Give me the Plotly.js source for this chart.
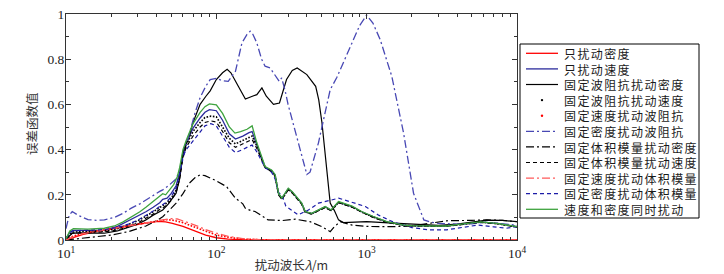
<!DOCTYPE html>
<html>
<head>
<meta charset="utf-8">
<script src="https://cdn.plot.ly/plotly-3.0.1.min.js"></script>
<style>
html,body{margin:0;padding:0;background:#fff;}
#chart{width:724px;height:274px;}
</style>
</head>
<body>
<div id="chart"></div>
<script>
// ---- data (wavelength in m, error-function value) ----
const names = ['只扰动密度','只扰动速度','固定波阻抗扰动密度','固定波阻抗扰动速度','固定速度扰动波阻抗',
  '固定密度扰动波阻抗','固定体积模量扰动密度','固定体积模量扰动速度','固定速度扰动体积模量','固定密度扰动体积模量','速度和密度同时扰动'];

const L_onlyRho = [10, 11, 13, 16, 20, 26, 34, 41, 46, 51, 60, 66, 76, 85, 100, 120, 150, 200, 400, 1000, 10000];
const v_onlyRho = [0, 0.01, 0.025, 0.037, 0.05, 0.062, 0.075, 0.082, 0.08, 0.074, 0.06, 0.05, 0.035, 0.022, 0.01, 0.004, 0.001, 0, 0, 0, 0];

const L_onlyVel = [10, 10.6, 11.2, 14, 18, 22, 26, 30, 34, 38, 42, 44, 47, 50, 54, 57, 60, 63, 70, 78, 84, 90, 100, 110, 122, 134, 150, 165, 173, 186, 200, 211, 233, 246, 259, 273, 301, 320, 370, 390, 430, 530, 580, 650, 800, 925, 1100, 1360, 1760, 2000, 2900, 3400, 4000, 5700, 7300, 8700, 10000];
const v_onlyVel = [0.005, 0.035, 0.042, 0.042, 0.044, 0.06, 0.085, 0.105, 0.125, 0.145, 0.165, 0.18, 0.185, 0.205, 0.24, 0.3, 0.39, 0.43, 0.495, 0.54, 0.565, 0.577, 0.572, 0.53, 0.47, 0.447, 0.46, 0.475, 0.48, 0.42, 0.365, 0.323, 0.307, 0.288, 0.206, 0.184, 0.227, 0.212, 0.162, 0.125, 0.117, 0.147, 0.132, 0.168, 0.148, 0.125, 0.104, 0.08, 0.066, 0.064, 0.062, 0.062, 0.068, 0.08, 0.074, 0.066, 0.059];

const L_fixImpRho = [10, 11, 14, 18, 22, 26, 30, 34, 38, 44, 48, 54, 57, 60, 63, 66, 70, 78, 85, 91, 100, 110, 118, 125, 140, 156, 172, 186, 201, 215, 240, 263, 293, 320, 345, 400, 458, 480, 504, 540, 572, 610, 650, 700, 1000, 1400, 2000, 3000, 4000, 5000, 6300, 8000, 10000];
const v_fixImpRho = [0.003, 0.03, 0.03, 0.03, 0.04, 0.058, 0.07, 0.089, 0.11, 0.133, 0.16, 0.207, 0.27, 0.38, 0.42, 0.46, 0.52, 0.6, 0.635, 0.66, 0.71, 0.74, 0.755, 0.74, 0.68, 0.624, 0.635, 0.643, 0.673, 0.636, 0.6, 0.606, 0.71, 0.75, 0.761, 0.732, 0.68, 0.62, 0.52, 0.33, 0.163, 0.13, 0.089, 0.077, 0.081, 0.076, 0.072, 0.065, 0.07, 0.08, 0.088, 0.087, 0.081];

const L_fixImpVel = [10, 11, 14, 18, 22, 26, 30, 34, 38, 42, 46, 50, 54, 57, 60, 63, 70, 78, 84, 92, 100, 110, 122, 134, 150, 165, 173, 186, 200, 211, 233, 246, 259, 273, 301, 320, 370, 390, 430, 530, 580, 650, 800, 925, 1100, 1360, 1760, 2000, 2900, 3400, 4000, 5700, 7300, 8700, 10000];
const v_fixImpVel = [0.005, 0.035, 0.038, 0.04, 0.05, 0.068, 0.085, 0.105, 0.125, 0.145, 0.16, 0.185, 0.22, 0.28, 0.38, 0.42, 0.48, 0.52, 0.542, 0.548, 0.545, 0.5, 0.45, 0.425, 0.44, 0.455, 0.46, 0.415, 0.36, 0.322, 0.305, 0.285, 0.205, 0.18, 0.225, 0.21, 0.16, 0.124, 0.116, 0.145, 0.13, 0.166, 0.146, 0.124, 0.102, 0.08, 0.065, 0.063, 0.061, 0.062, 0.067, 0.079, 0.073, 0.065, 0.058];

const L_fixVelImp = [10, 11, 13, 16, 20, 26, 34, 41, 46, 51, 60, 66, 76, 85, 100, 120, 150, 200, 260, 1000, 10000];
const v_fixVelImp = [0, 0.015, 0.03, 0.04, 0.052, 0.065, 0.078, 0.086, 0.09, 0.088, 0.077, 0.066, 0.05, 0.038, 0.022, 0.012, 0.004, 0.001, 0, 0, 0];

const L_fixRhoImp = [10, 10.5, 11, 12, 14, 16, 18, 21, 24, 27, 31, 34, 38, 42, 44, 48, 54, 58, 62, 66, 72, 78, 85, 91, 100, 110, 120, 134, 148, 160, 168, 175, 186, 200, 211, 228, 250, 262, 272, 287, 300, 335, 370, 400, 420, 450, 478, 504, 572, 634, 720, 817, 900, 1000, 1100, 1230, 1470, 1760, 2050, 2400, 2700, 3000, 4000, 5000, 6000, 7500, 10000];
const v_fixRhoImp = [0.05, 0.11, 0.126, 0.11, 0.09, 0.087, 0.089, 0.1, 0.118, 0.14, 0.16, 0.177, 0.2, 0.215, 0.222, 0.24, 0.27, 0.32, 0.4, 0.47, 0.56, 0.63, 0.68, 0.71, 0.715, 0.705, 0.702, 0.746, 0.872, 0.91, 0.924, 0.91, 0.872, 0.8, 0.769, 0.761, 0.72, 0.702, 0.717, 0.66, 0.6, 0.48, 0.37, 0.29, 0.3, 0.37, 0.43, 0.5, 0.665, 0.72, 0.8, 0.887, 0.95, 0.995, 0.96, 0.887, 0.724, 0.473, 0.207, 0.089, 0.078, 0.074, 0.07, 0.072, 0.078, 0.074, 0.065];

const L_fixKRho = [10, 11, 13, 16, 20, 26, 34, 40, 44, 50, 54, 60, 66, 72, 78, 84, 91, 100, 117, 134, 150, 156, 170, 181, 221, 273, 335, 420, 504, 572, 610, 667, 800, 1000, 1500, 2000, 2640, 3400, 5000, 6300, 8000, 10000];
const v_fixKRho = [0, 0.003, 0.008, 0.012, 0.022, 0.037, 0.062, 0.085, 0.103, 0.14, 0.163, 0.205, 0.251, 0.275, 0.288, 0.285, 0.275, 0.262, 0.236, 0.185, 0.16, 0.14, 0.13, 0.126, 0.089, 0.086, 0.092, 0.081, 0.059, 0.037, 0.059, 0.081, 0.066, 0.06, 0.059, 0.062, 0.074, 0.085, 0.087, 0.089, 0.087, 0.081];

const L_fixKVel = [10, 11, 14, 18, 22, 26, 30, 34, 38, 42, 46, 50, 54, 57, 60, 63, 70, 78, 84, 92, 100, 110, 122, 134, 150, 165, 173, 186, 200, 211, 233, 246, 259, 273, 301, 320, 370, 390, 430, 530, 580, 650, 800, 925, 1100, 1360, 1760, 2000, 2900, 3400, 4000, 5700, 7300, 8700, 10000];
const v_fixKVel = [0.003, 0.03, 0.034, 0.036, 0.044, 0.058, 0.075, 0.095, 0.115, 0.135, 0.15, 0.175, 0.21, 0.27, 0.37, 0.41, 0.46, 0.5, 0.52, 0.527, 0.522, 0.48, 0.43, 0.41, 0.425, 0.44, 0.445, 0.405, 0.355, 0.32, 0.302, 0.283, 0.2, 0.18, 0.222, 0.208, 0.158, 0.122, 0.115, 0.143, 0.13, 0.165, 0.145, 0.123, 0.1, 0.079, 0.064, 0.062, 0.06, 0.061, 0.066, 0.078, 0.072, 0.064, 0.057];

const L_fixVelK = [10, 11, 13, 16, 20, 26, 34, 41, 46, 50, 55, 60, 66, 76, 85, 100, 120, 150, 200, 260, 1000, 10000];
const v_fixVelK = [0, 0.012, 0.028, 0.04, 0.05, 0.062, 0.075, 0.085, 0.092, 0.095, 0.093, 0.086, 0.075, 0.06, 0.046, 0.03, 0.016, 0.006, 0.001, 0, 0, 0];

const L_fixRhoK = [10, 11, 14, 18, 22, 26, 30, 34, 38, 42, 46, 50, 54, 57, 60, 63, 70, 78, 84, 92, 100, 110, 122, 134, 150, 165, 173, 186, 200, 211, 233, 246, 259, 273, 290, 318, 350, 410, 478, 583, 650, 834, 980, 1200, 1500, 2000, 2600, 3400, 4000, 5500, 7000, 8500, 10000];
const v_fixRhoK = [0.01, 0.04, 0.044, 0.046, 0.055, 0.07, 0.088, 0.108, 0.128, 0.148, 0.165, 0.19, 0.23, 0.29, 0.37, 0.4, 0.44, 0.48, 0.505, 0.515, 0.505, 0.46, 0.41, 0.387, 0.4, 0.415, 0.42, 0.39, 0.35, 0.32, 0.3, 0.27, 0.21, 0.2, 0.15, 0.13, 0.111, 0.133, 0.163, 0.177, 0.185, 0.163, 0.148, 0.11, 0.08, 0.055, 0.045, 0.045, 0.052, 0.066, 0.058, 0.052, 0.059];

const L_both = [10, 10.6, 11.2, 14, 18, 21, 24, 27, 31, 34, 38, 41, 44, 46, 49, 52, 55, 57, 60, 63, 70, 78, 84, 90, 100, 110, 122, 133, 145, 160, 173, 186, 200, 211, 233, 246, 259, 273, 301, 320, 370, 390, 430, 530, 580, 650, 800, 925, 1100, 1360, 1760, 2000, 2900, 3400, 4000, 5700, 7300, 8700, 10000];
const v_both = [0.005, 0.04, 0.05, 0.048, 0.052, 0.062, 0.08, 0.1, 0.125, 0.145, 0.17, 0.19, 0.205, 0.2, 0.222, 0.245, 0.28, 0.32, 0.4, 0.44, 0.515, 0.565, 0.59, 0.602, 0.598, 0.56, 0.5, 0.473, 0.48, 0.49, 0.505, 0.43, 0.37, 0.325, 0.31, 0.29, 0.207, 0.185, 0.229, 0.214, 0.163, 0.126, 0.118, 0.148, 0.133, 0.17, 0.15, 0.126, 0.105, 0.081, 0.066, 0.064, 0.062, 0.062, 0.068, 0.08, 0.074, 0.066, 0.059];

const xTickVals = [10, 100, 1000, 10000];
const xTickText = ['10<sup>1</sup>', '10<sup>2</sup>', '10<sup>3</sup>', '10<sup>4</sup>'];

// ---- styles ----
const DASHDOT = '8px,3px,2px,3px';
const DASH = '4px,3px';
const DOTS = '1.6px,1.6px';

// series in legend order: [x, y, colour, dash, width, legendAsDot]
const series = [
  [L_onlyRho,  v_onlyRho,  '#ff0000', 'solid', 1.3, false],
  [L_onlyVel,  v_onlyVel,  '#2b2b9c', 'solid', 1.3, false],
  [L_fixImpRho, v_fixImpRho, '#000000', 'solid', 1.2, false],
  [L_fixImpVel, v_fixImpVel, '#000000', DOTS, 1.6, true],
  [L_fixVelImp, v_fixVelImp, '#ff0000', DOTS, 1.6, true],
  [L_fixRhoImp, v_fixRhoImp, '#4848b4', DASHDOT, 1.3, false],
  [L_fixKRho,  v_fixKRho,  '#000000', DASHDOT, 1.2, false],
  [L_fixKVel,  v_fixKVel,  '#000000', DASH, 1.2, false],
  [L_fixVelK,  v_fixVelK,  '#ff5a5a', DASHDOT, 1.3, false],
  [L_fixRhoK,  v_fixRhoK,  '#1c1ca8', DASH, 1.2, false],
  [L_both,     v_both,     '#3ea33e', 'solid', 1.3, false]
];

const traces = series.map(function (s, i) {
  return {type: 'scatter', mode: 'lines', name: names[i], x: s[0], y: s[1],
    line: {color: s[2], dash: s[3], width: s[4]}, showlegend: false};
});

// ---- hand-drawn legend box (MATLAB style, compact rows) ----
const W = 724, H = 274, ML = 66, MR = 207, MT = 14, MB = 34;
const PW = W - ML - MR, PH = H - MT - MB;
function px2x(px) { return (px - ML) / PW; }
function py2y(py) { return (H - MB - py) / PH; }

const FS = 12;                 // legend font size -> Plotly line spacing 1.3*FS
const rowTop = 53.3, rowStep = 1.3 * FS;
const shapes = [{type: 'rect', xref: 'paper', yref: 'paper',
  x0: px2x(520), x1: px2x(699), y0: py2y(218), y1: py2y(44),
  line: {color: '#000', width: 1}, fillcolor: '#fff', layer: 'above'}];
series.forEach(function (s, i) {
  const cy = rowTop + i * rowStep;
  if (s[5]) {
    shapes.push({type: 'circle', xref: 'paper', yref: 'paper', xsizemode: 'pixel', ysizemode: 'pixel',
      xanchor: px2x(542), yanchor: py2y(cy), x0: -1.2, x1: 1.2, y0: -1.2, y1: 1.2,
      fillcolor: s[2], line: {width: 0}, layer: 'above'});
  } else {
    shapes.push({type: 'line', xref: 'paper', yref: 'paper',
      x0: px2x(526), x1: px2x(558), y0: py2y(cy), y1: py2y(cy),
      line: {color: s[2], dash: s[3], width: s[4]}, layer: 'above'});
  }
});
const legendText = names.map(function (n) {
  return '<span style="letter-spacing:1.4px">' + n + '</span>';
}).join('<br>');
const midY = rowTop + 5 * rowStep;

const cjkFont = {family: '"Noto Sans CJK SC", sans-serif', size: 12.5, color: '#333'};
const annotations = [
  {xref: 'paper', yref: 'paper', x: px2x(563), y: py2y(midY), xanchor: 'left', yanchor: 'middle',
   align: 'left', showarrow: false, borderpad: 0, text: legendText,
   font: {family: '"Noto Sans CJK SC", sans-serif', size: FS, color: '#1a1a1a'}},
  {xref: 'paper', yref: 'paper', x: px2x(31), y: py2y(124), xanchor: 'center', yanchor: 'middle',
   textangle: -90, showarrow: false, text: '误差函数值', font: cjkFont}
];

const minorX = [];
[10, 100, 1000].forEach(function (d) { for (let k = 2; k <= 9; k++) minorX.push(k * d); });

const tickFont = {family: '"Liberation Serif", "Times New Roman", serif', size: 13.5, color: '#222'};

const layout = {
  width: W, height: H,
  margin: {l: ML, r: MR, t: MT, b: MB, pad: 0},
  paper_bgcolor: '#fff', plot_bgcolor: '#fff',
  showlegend: false,
  xaxis: {
    type: 'log', range: [1, 4], tickmode: 'array', tickvals: xTickVals, ticktext: xTickText,
    ticks: 'inside', ticklen: 5, tickcolor: '#333', mirror: 'ticks', showline: true,
    linecolor: '#333', linewidth: 1, showgrid: false, zeroline: false, tickfont: tickFont,
    ticklabelstandoff: 1,
    minor: {tickmode: 'array', tickvals: minorX, ticks: 'inside', ticklen: 3, tickcolor: '#333', showgrid: false},
    title: {text: '扰动波长<i>λ</i>/m', font: cjkFont, standoff: 1}
  },
  yaxis: {
    range: [0, 1], dtick: 0.2, tick0: 0, ticks: 'inside', ticklen: 5, tickcolor: '#333',
    mirror: 'ticks', showline: true, linecolor: '#333', linewidth: 1, showgrid: false, zeroline: false,
    tickfont: tickFont, ticklabelstandoff: -2,
    minor: {dtick: 0.1, ticks: 'inside', ticklen: 3, tickcolor: '#333', showgrid: false}
  },
  shapes: shapes,
  annotations: annotations
};

Plotly.newPlot('chart', traces, layout, {displayModeBar: false, staticPlot: true});
</script>
</body>
</html>
